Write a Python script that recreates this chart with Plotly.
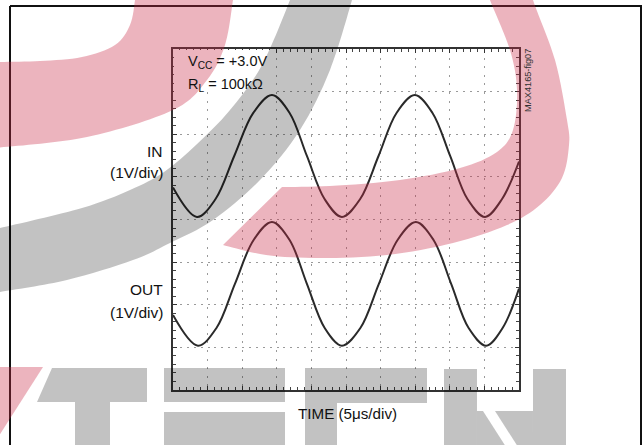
import plotly.graph_objects as go

# ---------------- data ----------------
# time in microseconds (5 us / div, 10 div), amplitude in divisions (1 V/div, 8 div)
in_time_us = [0.0, 3.45, 6.15, 8.85, 11.6, 14.3, 16.85, 19.35, 21.9, 24.4, 27.05,
              29.7, 32.3, 34.95, 37.5, 40.05, 42.55, 45.1, 47.55, 50.0]
in_level = [4.75, 4.06, 4.48, 5.49, 6.50, 6.92, 6.50, 5.49, 4.48, 4.06, 4.48,
            5.49, 6.50, 6.92, 6.50, 5.49, 4.48, 4.06, 4.48, 5.36]

out_time_us = [0.0, 3.6, 6.3, 8.95, 11.65, 14.3, 16.85, 19.35, 21.9, 24.4, 27.1,
               29.75, 32.45, 35.1, 37.65, 40.2, 42.7, 45.25, 47.65, 50.0]
out_level = [1.76, 1.04, 1.46, 2.49, 3.52, 3.94, 3.52, 2.49, 1.46, 1.04, 1.46,
             2.49, 3.52, 3.94, 3.52, 2.49, 1.46, 1.04, 1.46, 2.38]

x_range_us = [0, 50]
y_range_div = [0, 8]

label_in = ["IN", "(1V/div)"]
label_out = ["OUT", "(1V/div)"]
label_time = "TIME (5\u03bcs/div)"
label_vcc = "V<sub>CC</sub> = +3.0V"
label_rl = "R<sub>L</sub> = 100k\u03a9"
label_fig = "MAX4165-fig07"

# ---------------- layout geometry ----------------
W, H = 642, 445
L, R, T, B = 173, 519, 49, 390
PW, PH = R - L, B - T


def P(x, y):
    return ((x - L) / PW, (B - y) / PH)


def fmt(pt):
    a, b = P(*pt)
    return f"{a:.5f},{b:.5f}"


def curve(pts):
    out = []
    n = len(pts)
    for i in range(n - 1):
        p0 = pts[i - 1] if i > 0 else pts[i]
        p1 = pts[i]
        p2 = pts[i + 1]
        p3 = pts[i + 2] if i + 2 < n else pts[i + 1]
        c1 = (p1[0] + (p2[0] - p0[0]) / 6, p1[1] + (p2[1] - p0[1]) / 6)
        c2 = (p2[0] - (p3[0] - p1[0]) / 6, p2[1] - (p3[1] - p1[1]) / 6)
        out.append(f"C{fmt(c1)} {fmt(c2)} {fmt(p2)}")
    return " ".join(out)


def smooth_shape(*parts):
    s = f"M{fmt(parts[0][0])} " + curve(parts[0])
    for part in parts[1:]:
        s += f" L{fmt(part[0])} " + curve(part)
    return s + " Z"


def poly(pts):
    return "M" + " L".join(fmt(p) for p in pts) + " Z"


PINK = "rgba(200,40,70,0.35)"
GREY = "rgba(0,0,0,0.24)"

fig = go.Figure()
fig.add_trace(go.Scatter(x=in_time_us, y=in_level, mode="lines",
                         line=dict(color="#2a2a2a", width=2, shape="spline", smoothing=1),
                         hoverinfo="skip", showlegend=False))
fig.add_trace(go.Scatter(x=out_time_us, y=out_level, mode="lines",
                         line=dict(color="#2a2a2a", width=2, shape="spline", smoothing=1),
                         hoverinfo="skip", showlegend=False))

shapes = []
for (a, b) in [((10, 6), (642, 6)), ((10, 6), (10, 450)), ((641, 6), (641, 450))]:
    x0, y0 = P(*a)
    x1, y1 = P(*b)
    shapes.append(dict(type="line", xref="paper", yref="paper", x0=x0, y0=y0, x1=x1, y1=y1,
                       line=dict(color="#111", width=2), layer="above"))
x0, y0 = P(174, 50)
x1, y1 = P(274, 92)
shapes.append(dict(type="rect", xref="paper", yref="paper", x0=x0, y0=y0, x1=x1, y1=y1,
                   fillcolor="white", line=dict(width=0), layer="above"))

wm = []
wm.append((PINK, smooth_shape(
    [(-5, 62), (40, 61), (82, 57), (115, 45), (130, 25), (135, 0), (135, -8)],
    [(234, -8), (233, 0), (225, 45), (207, 80), (173, 110), (87, 137), (-5, 148)])))
wm.append((GREY, smooth_shape(
    [(353, -8), (352, 0), (330, 70), (300, 130), (260, 180), (213, 220), (170, 243),
     (133, 260), (67, 280), (0, 292), (-5, 293)],
    [(-5, 228), (0, 228), (82, 208), (130, 190), (164, 172), (196, 145), (230, 110),
     (262, 65), (290, 0), (291, -8)])))
wm.append((PINK, smooth_shape(
    [(534, -8), (533, 0), (555, 60), (567, 120), (569, 145), (562, 178), (540, 205),
     (507, 225), (453, 243), (387, 255), (320, 258), (266, 255), (223, 245)],
    [(282, 187), (330, 186), (400, 180), (460, 168), (497, 152), (513, 130), (517, 90),
     (510, 50), (490, 0), (489, -8)])))
wm.append((PINK, poly([(-5, 367), (43, 367), (-5, 442)])))
wm.append((GREY, poly([(52, 368), (147, 368), (147, 402), (110, 402), (110, 450),
                        (75, 450), (75, 402), (37, 402)])))
wm.append((GREY, poly([(164, 368), (285, 368), (285, 402), (164, 402)])))
wm.append((GREY, poly([(164, 412), (285, 412), (285, 450), (164, 450)])))
wm.append((GREY, poly([(305, 368), (427, 368), (427, 403), (337, 403), (337, 450), (305, 450)])))
wm.append((GREY, poly([(444, 369), (477, 369), (477, 450), (444, 450)])))
wm.append((GREY, poly([(533, 369), (566, 369), (566, 450), (533, 450)])))
wm.append((GREY, poly([(477, 411), (483, 411), (508, 450), (477, 450)])))
wm.append((GREY, poly([(495, 411), (533, 411), (533, 450), (520, 450)])))
for col, path in wm:
    shapes.append(dict(type="path", xref="paper", yref="paper", path=path,
                       fillcolor=col, line=dict(width=0), layer="above"))

FONT = "Liberation Sans, Arial, sans-serif"
ann = []


def add_text(text, x, y, size, xanchor="left", yanchor="middle", angle=0, color="#111"):
    ax, ay = P(x, y)
    ann.append(dict(text=text, x=ax, y=ay, xref="paper", yref="paper", showarrow=False,
                    xanchor=xanchor, yanchor=yanchor, textangle=angle, borderpad=0,
                    font=dict(family=FONT, size=size, color=color)))


add_text(label_vcc, 187, 62, 14.5)
add_text(label_rl, 187, 85, 14.5)
add_text(label_in[0], 164, 151, 15.5, xanchor="right")
add_text(label_in[1], 164, 172, 15.5, xanchor="right")
add_text(label_out[0], 164, 289, 15.5, xanchor="right")
add_text(label_out[1], 164, 312, 15.5, xanchor="right")
add_text(label_time, 347, 413, 15.2, xanchor="center")
add_text(label_fig, 528, 81, 9.2, xanchor="center", angle=-90, color="#333")

grid_x = dict(range=x_range_us, dtick=5, tick0=0, showgrid=True, gridcolor="#9a9a9a",
              griddash="2px,6.6px", gridwidth=1, showline=True, linecolor="#333",
              linewidth=2, mirror="ticks", ticks="inside", ticklen=4, tickcolor="#333",
              showticklabels=False, zeroline=False, fixedrange=True,
              minor=dict(dtick=1, ticks="inside", ticklen=3, tickcolor="#444", showgrid=False))
grid_y = dict(range=y_range_div, dtick=1, tick0=0, showgrid=True, gridcolor="#9a9a9a",
              griddash="2px,4.9px", gridwidth=1, showline=True, linecolor="#333",
              linewidth=2, mirror="ticks", ticks="inside", ticklen=4, tickcolor="#333",
              showticklabels=False, zeroline=False, fixedrange=True,
              minor=dict(dtick=0.2, ticks="inside", ticklen=3, tickcolor="#444", showgrid=False))

fig.update_layout(width=W, height=H, margin=dict(l=L, r=W - R, t=T, b=H - B),
                  paper_bgcolor="white", plot_bgcolor="white",
                  xaxis=grid_x, yaxis=grid_y, shapes=shapes, annotations=ann,
                  showlegend=False)
fig.write_html("out.html", config={"displayModeBar": False},
               post_script="document.body.style.margin='0px';document.body.style.overflow='hidden';")
